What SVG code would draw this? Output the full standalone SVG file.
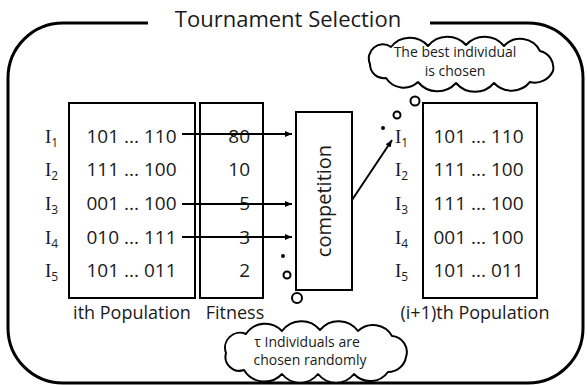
<svg xmlns="http://www.w3.org/2000/svg" width="587" height="385" viewBox="0 0 587 385">
<style>
.t{font-family:"Open Sans","Noto Sans","Liberation Sans",sans-serif;fill:#1a1a1a}
.row{font-size:19px}
.lbl{font-size:18px}
.cl{font-size:14px}
.iv{font-family:"Liberation Serif","DejaVu Serif",serif;font-size:19px;fill:#1a1a1a}
.sub{font-family:"Open Sans","Liberation Sans",sans-serif;font-size:12px;fill:#1a1a1a}
.box{fill:none;stroke:#000;stroke-width:2}
.conn{stroke:#000;stroke-width:2;fill:none}
.cloud{fill:#fff;stroke:#000;stroke-width:2;stroke-linejoin:round}
.ring{fill:#fff;stroke:#000;stroke-width:2}
</style>
<defs>
<marker id="ah" markerWidth="8" markerHeight="8" refX="7" refY="4" orient="auto" markerUnits="userSpaceOnUse"><path d="M0,1 L7,4 L0,7 z" fill="#000"/></marker>
</defs>
<rect width="587" height="385" fill="#fff"/>
<g id="frame">
<path d="M148,23 H63 A55 55 0 0 0 8,78 V328 A55 55 0 0 0 63,383 H528 A55 55 0 0 0 583,328 V78 A55 55 0 0 0 528,23 H430" fill="none" stroke="#000" stroke-width="3"/>
<text class="t" x="288" y="27" font-size="22" text-anchor="middle">Tournament Selection</text>
</g>
<g id="ith-population">
<rect class="box" x="69" y="103" width="126" height="195"/>
<text class="iv" x="45" y="143">I<tspan class="sub" dy="4">1</tspan></text>
<text class="iv" x="45" y="176">I<tspan class="sub" dy="4">2</tspan></text>
<text class="iv" x="45" y="210">I<tspan class="sub" dy="4">3</tspan></text>
<text class="iv" x="45" y="244">I<tspan class="sub" dy="4">4</tspan></text>
<text class="iv" x="45" y="277">I<tspan class="sub" dy="4">5</tspan></text>
<text class="t row" x="131.5" y="143" text-anchor="middle">101 ... 110</text>
<text class="t row" x="131.5" y="176" text-anchor="middle">111 ... 100</text>
<text class="t row" x="131.5" y="210" text-anchor="middle">001 ... 100</text>
<text class="t row" x="131.5" y="244" text-anchor="middle">010 ... 111</text>
<text class="t row" x="131.5" y="277" text-anchor="middle">101 ... 011</text>
<text class="t lbl" x="132" y="319" text-anchor="middle">ith Population</text>
</g>
<g id="fitness">
<rect class="box" x="200" y="103" width="63" height="195"/>
<text class="t row" x="250" y="143" text-anchor="end">80</text>
<text class="t row" x="250" y="176" text-anchor="end">10</text>
<text class="t row" x="250" y="210" text-anchor="end">5</text>
<text class="t row" x="250" y="244" text-anchor="end">3</text>
<text class="t row" x="250" y="277" text-anchor="end">2</text>
<text class="t lbl" x="235" y="319" text-anchor="middle">Fitness</text>
</g>
<g id="competition">
<rect class="box" x="296" y="112" width="56" height="178"/>
<text class="t" font-size="20" transform="translate(331,201) rotate(-90)" text-anchor="middle">competition</text>
</g>
<g id="next-population">
<rect class="box" x="423" y="103" width="114" height="195"/>
<text class="iv" x="395" y="143">I<tspan class="sub" dy="4">1</tspan></text>
<text class="iv" x="395" y="176">I<tspan class="sub" dy="4">2</tspan></text>
<text class="iv" x="395" y="210">I<tspan class="sub" dy="4">3</tspan></text>
<text class="iv" x="395" y="244">I<tspan class="sub" dy="4">4</tspan></text>
<text class="iv" x="395" y="277">I<tspan class="sub" dy="4">5</tspan></text>
<text class="t row" x="478.5" y="143" text-anchor="middle">101 ... 110</text>
<text class="t row" x="478.5" y="176" text-anchor="middle">111 ... 100</text>
<text class="t row" x="478.5" y="210" text-anchor="middle">111 ... 100</text>
<text class="t row" x="478.5" y="244" text-anchor="middle">001 ... 100</text>
<text class="t row" x="478.5" y="277" text-anchor="middle">101 ... 011</text>
<text class="t lbl" x="475" y="319" text-anchor="middle">(i+1)th Population</text>
</g>
<g id="connectors">
<line class="conn" x1="182" y1="134" x2="292" y2="134" marker-end="url(#ah)"/>
<line class="conn" x1="182" y1="204" x2="292" y2="204" marker-end="url(#ah)"/>
<line class="conn" x1="182" y1="237" x2="292" y2="237" marker-end="url(#ah)"/>
<line class="conn" x1="352" y1="200" x2="392" y2="140" marker-end="url(#ah)"/>
</g>
<g id="callout-best">
<path class="cloud" d="M370,64 A14 14 0 0 1 391,47 A24 24 0 0 1 428,46 A25 25 0 0 1 466,45 A25 25 0 0 1 504,46 A22 22 0 0 1 540,51 A17 17 0 0 1 553,71 A20 20 0 0 1 530,82 A24 24 0 0 1 494,83 A25 25 0 0 1 456,83 A25 25 0 0 1 418,82 A21 21 0 0 1 386,78 A14 14 0 0 1 370,64 Z"/>
<text class="t cl" x="455" y="57" text-anchor="middle">The best individual</text>
<text class="t cl" x="455" y="76" text-anchor="middle">is chosen</text>
<circle cx="383" cy="128" r="2" fill="#000"/>
<circle class="ring" cx="397" cy="115" r="3.5"/>
<circle class="ring" cx="415" cy="101" r="4.5"/>
</g>
<g id="callout-random">
<path class="cloud" d="M226,353 A15 15 0 0 1 246,334 A23 23 0 0 1 282,331 A24 24 0 0 1 320,330 A24 24 0 0 1 358,331 A22 22 0 0 1 392,336 A16 16 0 0 1 406,357 A18 18 0 0 1 388,372 A22 22 0 0 1 354,374 A23 23 0 0 1 318,374 A23 23 0 0 1 282,374 A24 24 0 0 1 244,370 A14 14 0 0 1 226,353 Z"/>
<text class="t cl" x="307" y="347" text-anchor="middle">τ Individuals are</text>
<text class="t cl" x="310" y="365" text-anchor="middle">chosen randomly</text>
<circle cx="283" cy="256" r="2" fill="#000"/>
<circle class="ring" cx="287" cy="275" r="3.5"/>
<circle class="ring" cx="297" cy="298" r="5"/>
</g>
</svg>
